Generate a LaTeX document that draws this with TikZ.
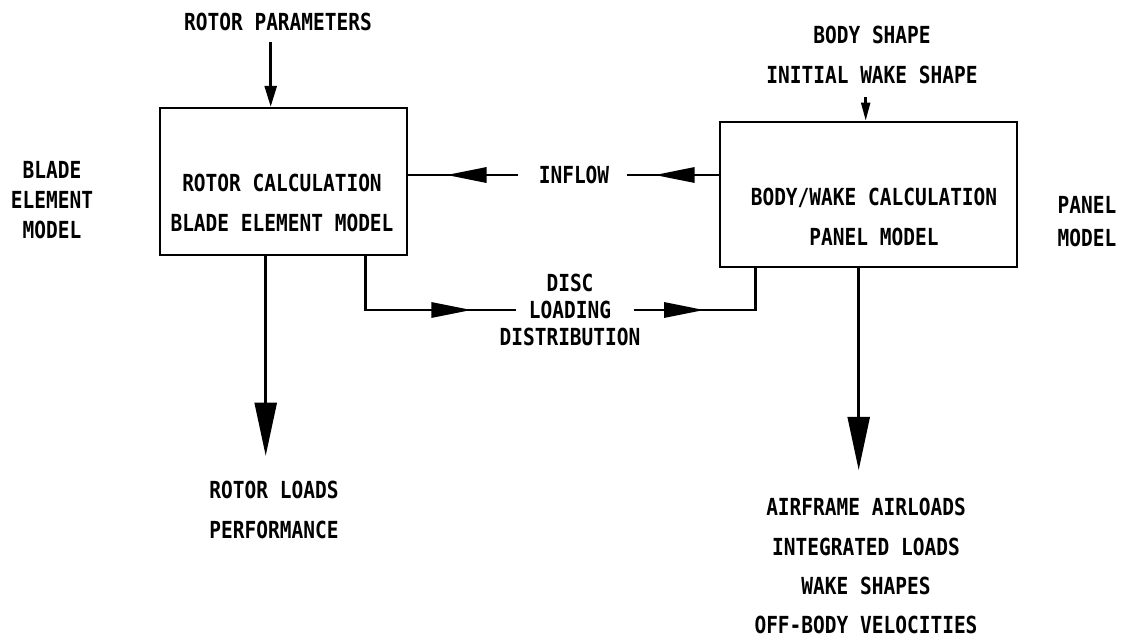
\documentclass[tikz,border=0pt]{standalone}
\usepackage{fontspec}
\setmainfont{DejaVu Sans Mono}[FakeStretch=0.83]
\usetikzlibrary{arrows.meta, calc, positioning, decorations.markings}

\tikzset{
  lbl/.style={font=\bfseries\fontsize{16.7}{28.5}\selectfont, align=center, inner sep=0pt},
  calcbox/.style={draw, line width=1.8pt, inner sep=0pt},
  inarr/.style={-{Triangle[length=0.52cm, width=0.3cm]}},
  outarr/.style={-{Triangle[length=1.33cm, width=0.55cm]}},
  midarr/.style={postaction={decorate}, decoration={markings,
    mark=at position #1 with {\arrow{Triangle[length=1cm, width=0.38cm]}}}}
}

\begin{document}
\begin{tikzpicture}[x=0.025cm, y=-0.025cm, line width=1.8pt]
\useasboundingbox (0,0) rectangle (1126,640);

% the two calculations
\node[calcbox, minimum width=6.175cm, minimum height=3.675cm] (rotor) at (283.5,181.5) {};
\node[lbl] (rotortxt) at (282,203) {ROTOR CALCULATION\\BLADE ELEMENT MODEL};
\node[calcbox, minimum width=7.425cm, minimum height=3.625cm] (panel) at (868.5,194.5) {};
\node[lbl] (paneltxt) at (874,217) {BODY/WAKE CALCULATION\\PANEL MODEL};

% side labels
\node[lbl, font=\bfseries\fontsize{16.7}{21.5}\selectfont] (blade) at (52,200) {BLADE\\ELEMENT\\MODEL};
\node[lbl, font=\bfseries\fontsize{16.7}{23.5}\selectfont] (panelside) at (1087,222) {PANEL\\MODEL};

% inputs and outputs
\node[lbl] (params) at (278,22) {ROTOR PARAMETERS};
\node[lbl] (shapes) at (872,55) {BODY SHAPE\\INITIAL WAKE SHAPE};
\node[lbl] (rloads) at (274,510) {ROTOR LOADS\\PERFORMANCE};
\node[lbl, font=\bfseries\fontsize{16.7}{27.8}\selectfont] (aloads) at (866,566)
  {AIRFRAME AIRLOADS\\INTEGRATED LOADS\\WAKE SHAPES\\OFF-BODY VELOCITIES};

% exchanged quantities
\node[lbl] (inflow) at (574,175) {INFLOW};
\node[lbl, font=\bfseries\fontsize{16.7}{19.2}\selectfont] (disc) at (570,310) {DISC\\LOADING\\DISTRIBUTION};

% attachment points on the boxes
\coordinate (rotorin) at ($(rotor.north west)+(112,0)$);
\coordinate (rotorout) at ($(rotor.south west)+(107,0)$);
\coordinate (rotordisc) at ($(rotor.south west)+(207,0)$);
\coordinate (panelin) at ($(panel.north west)+(147,0)$);
\coordinate (panelout) at ($(panel.south west)+(140,0)$);
\coordinate (paneldisc) at ($(panel.south west)+(37,0)$);

\draw[inarr, shorten <=0.24cm] (params.south -| rotorin) -- (rotorin);
\draw[-{Triangle[length=0.45cm, width=0.22cm]}, shorten <=0.3cm] (shapes.south -| panelin) -- (panelin);
\draw[outarr, shorten >=0.6cm] (rotorout) -- (rotorout |- rloads.north);
\draw[outarr, shorten >=0.68cm] (panelout) -- (panelout |- aloads.north);

\draw[midarr=0.65] ([xshift=-0.5cm]inflow.west) -- (inflow.west -| rotor.east);
\draw[midarr=0.7] (inflow.east -| panel.west) -- ([xshift=0.42cm]inflow.east);
\draw[midarr=0.78] (rotordisc) |- ([xshift=0.45cm]disc.west);
\draw[midarr=0.43] ([xshift=-0.2cm]disc.east) -| (paneldisc);
\end{tikzpicture}
\end{document}
